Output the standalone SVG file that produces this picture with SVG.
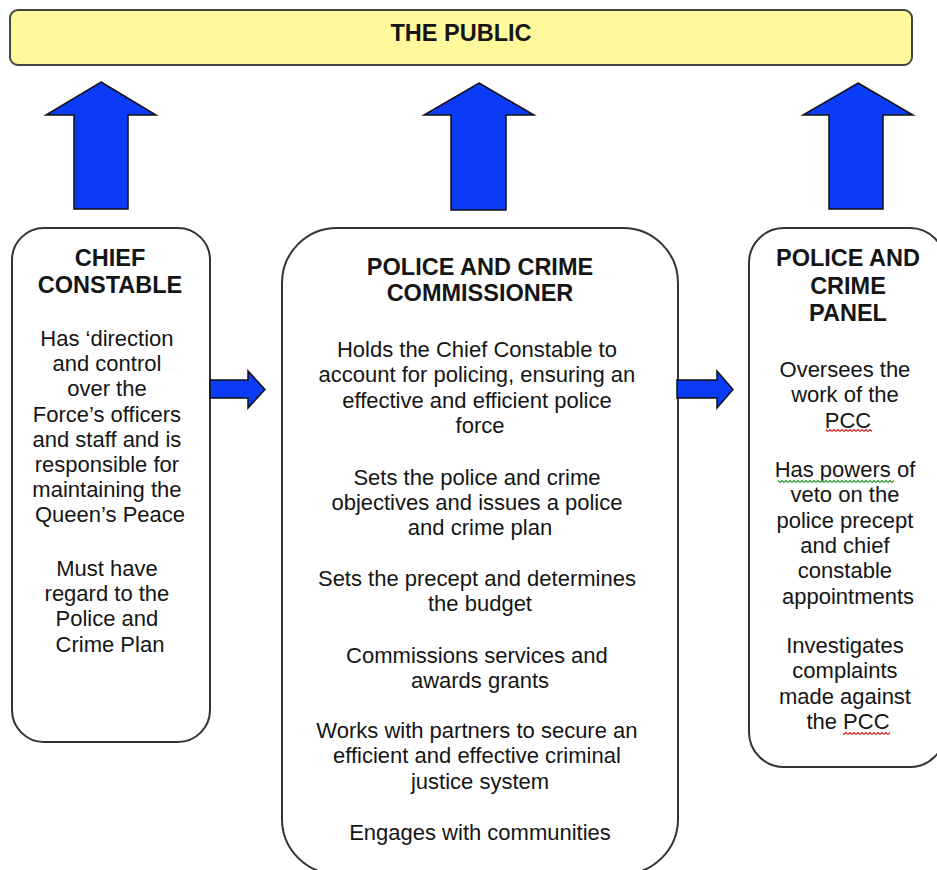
<svg xmlns="http://www.w3.org/2000/svg" width="937" height="870" viewBox="0 0 937 870">
  <defs>
    <style>
      .bg { fill: #ffffff; }
      .public { fill: #fff99b; stroke: #444444; stroke-width: 2; }
      .box { fill: #ffffff; stroke: #333333; stroke-width: 2; }
      .arrow { fill: #0a3cf7; stroke: #111111; stroke-width: 1.5; stroke-linejoin: miter; }
      text { font-family: "Liberation Sans", Arial, Helvetica, sans-serif; fill: #151515; text-anchor: middle; }
      .title { font-size: 23.5px; font-weight: bold; }
      .body { font-size: 22px; }
    </style>
    <pattern id="wavyRed" width="4" height="3" patternUnits="userSpaceOnUse">
      <path d="M0,2.6 L2,0.4 L4,2.6" fill="none" stroke="#e02424" stroke-width="1.2"/>
    </pattern>
    <pattern id="wavyGreen" width="4" height="3" patternUnits="userSpaceOnUse">
      <path d="M0,2.6 L2,0.4 L4,2.6" fill="none" stroke="#2a9a2a" stroke-width="1.2"/>
    </pattern>
  </defs>

  <rect class="bg" x="0" y="0" width="937" height="870"/>

  <g id="public">
    <rect class="public" x="10" y="10" width="902" height="55" rx="8" ry="8"/>
    <text class="title" x="461" y="41">THE PUBLIC</text>
  </g>

  <g id="chief-constable">
    <rect class="box" x="12" y="228" width="198" height="514" rx="32" ry="32"/>
    <text class="title" x="110" y="266">CHIEF</text>
    <text class="title" x="110" y="293">CONSTABLE</text>
    <text class="body" x="110" y="346">
      <tspan x="110" y="346">Has ‘direction</tspan>
      <tspan x="110" y="371.2">and control</tspan>
      <tspan x="110" y="396.4">over the</tspan>
      <tspan x="110" y="421.6">Force’s officers</tspan>
      <tspan x="110" y="446.8">and staff and is</tspan>
      <tspan x="110" y="472">responsible for</tspan>
      <tspan x="110" y="497.2">maintaining the</tspan>
      <tspan x="110" y="522.4">Queen’s Peace</tspan>
    </text>
    <text class="body" x="110" y="576">
      <tspan x="110" y="576">Must have</tspan>
      <tspan x="110" y="601.2">regard to the</tspan>
      <tspan x="110" y="626.4">Police and</tspan>
      <tspan x="110" y="651.6">Crime Plan</tspan>
    </text>
  </g>

  <g id="pcc">
    <rect class="box" x="282" y="228" width="396" height="646" rx="55" ry="55"/>
    <text class="title" x="480" y="275">POLICE AND CRIME</text>
    <text class="title" x="480" y="301">COMMISSIONER</text>
    <text class="body">
      <tspan x="480" y="357">Holds the Chief Constable to</tspan>
      <tspan x="480" y="382.3">account for policing, ensuring an</tspan>
      <tspan x="480" y="407.6">effective and efficient police</tspan>
      <tspan x="480" y="432.9">force</tspan>
    </text>
    <text class="body">
      <tspan x="480" y="484.5">Sets the police and crime</tspan>
      <tspan x="480" y="509.8">objectives and issues a police</tspan>
      <tspan x="480" y="535.1">and crime plan</tspan>
    </text>
    <text class="body">
      <tspan x="480" y="585.5">Sets the precept and determines</tspan>
      <tspan x="480" y="610.8">the budget</tspan>
    </text>
    <text class="body">
      <tspan x="480" y="662.5">Commissions services and</tspan>
      <tspan x="480" y="687.8">awards grants</tspan>
    </text>
    <text class="body">
      <tspan x="480" y="738">Works with partners to secure an</tspan>
      <tspan x="480" y="763.3">efficient and effective criminal</tspan>
      <tspan x="480" y="788.6">justice system</tspan>
    </text>
    <text class="body" x="480" y="840">Engages with communities</text>
  </g>

  <g id="police-crime-panel">
    <rect class="box" x="749" y="228" width="196" height="539" rx="35" ry="35"/>
    <text class="title" x="848" y="266">POLICE AND</text>
    <text class="title" x="848" y="293.5">CRIME</text>
    <text class="title" x="848" y="321">PANEL</text>
    <text class="body">
      <tspan x="848" y="377">Oversees the</tspan>
      <tspan x="848" y="402.3">work of the</tspan>
      <tspan x="848" y="427.6">PCC</tspan>
    </text>
    <text class="body">
      <tspan x="848" y="477">Has powers of</tspan>
      <tspan x="848" y="502.3">veto on the</tspan>
      <tspan x="848" y="527.6">police precept</tspan>
      <tspan x="848" y="552.9">and chief</tspan>
      <tspan x="848" y="578.2">constable</tspan>
      <tspan x="848" y="603.5">appointments</tspan>
    </text>
    <text class="body">
      <tspan x="848" y="653">Investigates</tspan>
      <tspan x="848" y="678.3">complaints</tspan>
      <tspan x="848" y="703.6">made against</tspan>
      <tspan x="848" y="728.9">the PCC</tspan>
    </text>
    <rect x="826" y="429" width="46" height="3" fill="url(#wavyRed)"/>
    <rect x="778" y="480" width="116" height="3" fill="url(#wavyGreen)"/>
    <rect x="843" y="732" width="47" height="3" fill="url(#wavyRed)"/>
  </g>

  <g id="connectors">
    <path class="arrow" d="M101,82 L156,115 L128,115 L128,209 L74,209 L74,115 L46,115 Z"/>
    <path class="arrow" d="M479,83 L534,115 L506,115 L506,210 L451,210 L451,115 L424,115 Z"/>
    <path class="arrow" d="M858,83 L913,115 L883,115 L883,209 L829,209 L829,115 L803,115 Z"/>
    <path class="arrow" d="M210,380 L248,380 L248,371 L265,389.5 L248,408 L248,398 L210,398 Z"/>
    <path class="arrow" d="M677,380 L717,380 L717,371 L733,389.5 L717,408 L717,398 L677,398 Z"/>
  </g>
</svg>
